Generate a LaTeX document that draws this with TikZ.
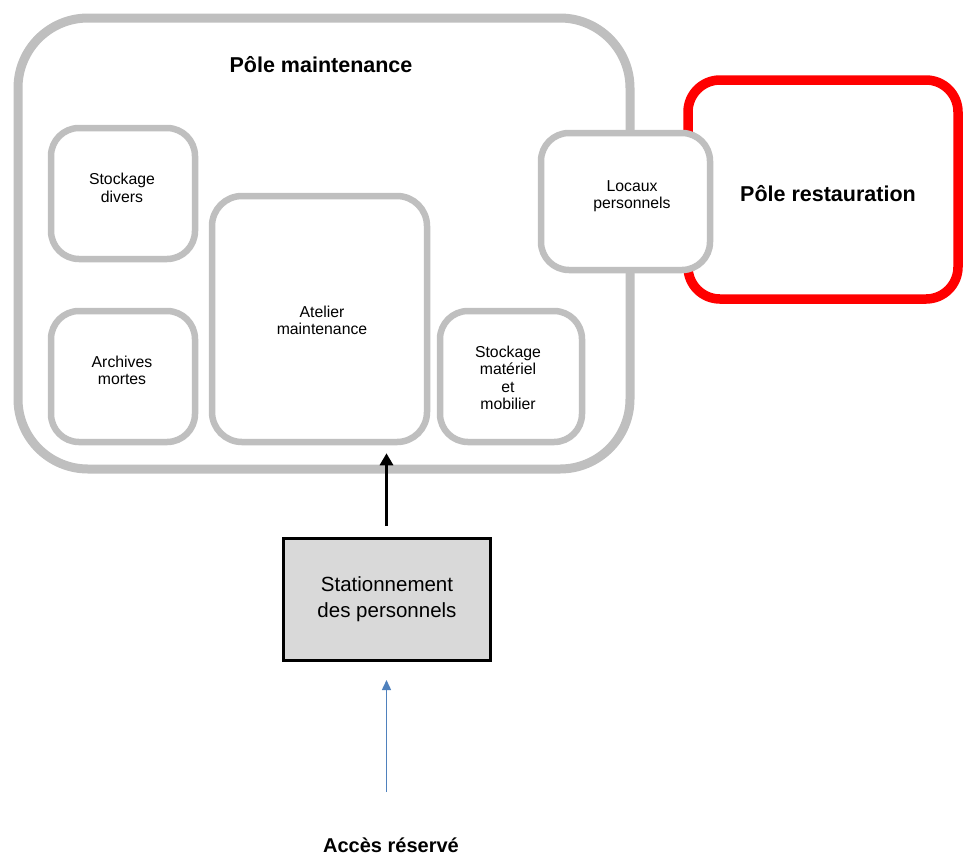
\documentclass[tikz,border=0pt]{standalone}
\usepackage{fontspec}
\setmainfont{Liberation Sans}
\usetikzlibrary{arrows.meta}
\definecolor{boxgray}{HTML}{BFBFBF}
\definecolor{parkfill}{HTML}{D9D9D9}
\definecolor{accblue}{HTML}{4F81BD}
\definecolor{restred}{HTML}{FF0000}
\tikzset{
  polebox/.style={draw=boxgray, line width=9pt, rounded corners=70pt, rectangle, inner sep=0pt},
  restbox/.style={draw=restred, line width=9.5pt, rounded corners=32pt, rectangle, inner sep=0pt},
  roombox/.style={draw=boxgray, fill=white, line width=6.5pt, rounded corners=28pt, rectangle, inner sep=0pt},
  parkbox/.style={draw=black, fill=parkfill, line width=3pt, rectangle, inner sep=0pt},
  smalltxt/.style={align=center, font=\fontsize{15.8}{17.5}\selectfont, inner sep=0pt},
  titletxt/.style={font=\fontsize{21.5}{25}\selectfont\bfseries, inner sep=0pt},
  parktxt/.style={align=center, font=\fontsize{20.5}{26}\selectfont, inner sep=0pt},
  flowarrow/.style={draw=black, line width=3pt, -{Triangle[length=12pt,width=13pt]}},
  accarrow/.style={draw=accblue, line width=1.5pt, -{Triangle[length=10pt,width=9pt]}}
}
\begin{document}
\begin{tikzpicture}[x=1pt,y=-1pt]
\useasboundingbox (0,0) rectangle (964,855);

% the two poles
\node[polebox, minimum width=612pt, minimum height=451pt] (maint) at (324,243.5) {};
\node[restbox, minimum width=270pt, minimum height=219pt] (rest) at (823,189.5) {};

% rooms of the maintenance pole
\node[roombox, minimum width=144pt, minimum height=131pt] (divers) at (123,193.5) {};
\node[roombox, minimum width=144pt, minimum height=131pt] (archives) at (123,376.5) {};
\node[roombox, minimum width=215pt, minimum height=246pt, rounded corners=30pt] (atelier) at (319.5,319) {};
\node[roombox, minimum width=142pt, minimum height=131pt] (materiel) at (511,376.5) {};
\node[roombox, minimum width=169pt, minimum height=137pt] (locaux) at (625.5,201.5) {};

% parking
\node[parkbox, minimum width=207pt, minimum height=122pt] (stat) at (386.5,599) {};

% labels
\node[titletxt] (tmaint) at (321,65) {Pôle maintenance};
\node[titletxt] (trest) at (828,194) {Pôle restauration};
\node[smalltxt] (tdivers) at (122,188) {Stockage\\divers};
\node[smalltxt] (tarchives) at (122,370.5) {Archives\\mortes};
\node[smalltxt] (tatelier) at (322,320.5) {Atelier\\maintenance};
\node[smalltxt] (tlocaux) at (632,196) {Locaux\\personnels};
\node[smalltxt] (tmateriel) at (508,378) {Stockage\\matériel\\et\\mobilier};
\node[parktxt] (tstat) at (387,599) {Stationnement\\des personnels};
\node[titletxt, font=\fontsize{20}{24}\selectfont\bfseries] (tacces) at (391,845) {Accès réservé};

% connectors
\coordinate (accin) at (386.5,792);
\draw[flowarrow, shorten <=10.5pt, shorten >=8pt] (stat.north) -- (stat.north |- atelier.south);
\draw[accarrow, shorten >=18.5pt] (accin) -- (stat.south);
\end{tikzpicture}
\end{document}
